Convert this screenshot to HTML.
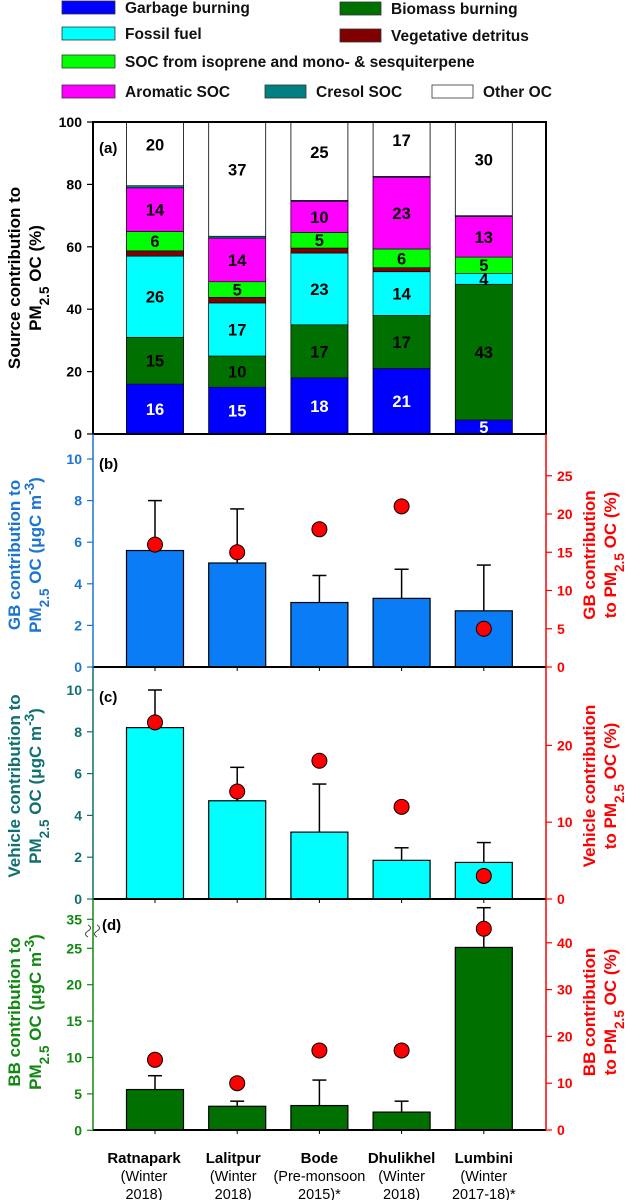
<!DOCTYPE html>
<html><head><meta charset="utf-8"><style>
html,body{margin:0;padding:0;background:#fff}
svg{display:block;font-family:"Liberation Sans",Arial,sans-serif}
</style></head><body>
<svg id="chart" width="627" height="1200" viewBox="0 0 627 1200">
<g id="legend"></g>
<g id="pa"></g>
<g id="pb"></g>
<g id="pc"></g>
<g id="pd"></g>
<g id="xl"></g>
</svg>
<script>
const sites = ["Ratnapark","Lalitpur","Bode","Dhulikhel","Lumbini"];
const periods1 = ["(Winter","(Winter","(Pre-monsoon","(Winter","(Winter"];
const periods2 = ["2018)","2018)","2015)*","2018)","2017-18)*"];
const sourceNames = ["Garbage burning","Biomass burning","Fossil fuel","Vegetative detritus","SOC from isoprene and mono- & sesquiterpene","Aromatic SOC","Cresol SOC","Other OC"];
const sourceColors = ["#0000ff","#007000","#00ffff","#800000","#00ff00","#ff00ff","#008080","#ffffff"];
const gbShare = [16,15,18,21,4.5];
const bbShare = [15,10,17,17,43.5];
const ffShare = [26,17,23,14,3.5];
const vdShare = [1.7,1.8,1.6,1.3,0];
const socShare = [6.2,5,5,6,5.2];
const aroShare = [14,14,10,23,13];
const creShare = [0.7,0.6,0.3,0.3,0.3];
const gbLabel = ["16","15","18","21","5"];
const bbLabel = ["15","10","17","17","43"];
const ffLabel = ["26","17","23","14","4"];
const socLabel = ["6","5","5","6","5"];
const aroLabel = ["14","14","10","23","13"];
const otherLabel = ["20","37","25","17","30"];
const gbConc = [5.6,5.0,3.1,3.3,2.7];
const gbErr = [8.0,7.6,4.4,4.7,4.9];
const gbPct = [16,15,18,21,5];
const vehConc = [8.2,4.7,3.2,1.85,1.75];
const vehErr = [10,6.3,5.5,2.45,2.7];
const vehPct = [23,14,18,12,3];
const bbConc = [5.6,3.3,3.4,2.5,25.3];
const bbErr = [7.5,4.0,6.9,4.0,39];
const bbPct = [15,10,17,17,43];
const ticksA = [0,20,40,60,80,100];
const ticksB = [0,2,4,6,8,10];
const ticksBR = [0,5,10,15,20,25];
const ticksC = [0,2,4,6,8,10];
const ticksCR = [0,10,20];
const ticksD = [0,5,10,15,20,25,35];
const ticksDR = [0,10,20,30,40];

const NS="http://www.w3.org/2000/svg";
function mk(parent,tag,attrs,text){const e=document.createElementNS(NS,tag);for(const k in attrs)e.setAttribute(k,attrs[k]);if(text!==undefined)e.textContent=text;parent.appendChild(e);return e;}
const X0=93,X1=546,BW=57;
const xc=i=>155+82.2*i;

// legend
const L=document.getElementById('legend');
const legItems=[[0,62,1],[1,340,2],[2,62,27],[3,340,29],[4,62,55],[5,62,85],[6,265,85],[7,432,85]];
legItems.forEach(it=>{
  const g=mk(L,'g',{});
  
  
  const w=it[1]===62?53:41;
  mk(g,'rect',{x:it[1],y:it[2],width:w,height:13,fill:sourceColors[it[0]],stroke:'#333','stroke-width':0.8});
  mk(g,'text',{x:it[1]+w+10,y:it[2]+12,'font-size':15.5,'font-weight':'bold',fill:'#111'},sourceNames[it[0]]);
});

function leftAxis(g,ticks,ymap,color,x){
  ticks.forEach(t=>{const y=ymap(t);
    mk(g,'line',{x1:x-6,x2:x,y1:y,y2:y,stroke:color,'stroke-width':1.2});
    const tx=mk(g,'text',{x:x-11,y:y+5,'text-anchor':'end','font-size':14,'font-weight':'bold',fill:color},String(t));
    
  });
}
function rightAxis(g,ticks,ymap){
  ticks.forEach(t=>{const y=ymap(t);
    mk(g,'line',{x1:X1,x2:X1+6,y1:y,y2:y,stroke:'#ff0000','stroke-width':1.2});
    const tx=mk(g,'text',{x:X1+11,y:y+5,'font-size':14,'font-weight':'bold',fill:'#ff0000'},String(t));
    
  });
}
function vtitle(g,x,y,lines,color,size,name){
  const t=mk(g,'text',{transform:`translate(${x},${y}) rotate(-90)`,'text-anchor':'middle','font-size':size,'font-weight':'bold',fill:color});
  
  lines.forEach((ln,i)=>{const ts=mk(t,'tspan',{x:0,dy:i?21:0});ln.forEach(seg=>{mk(ts,'tspan',seg.sub?{'baseline-shift':'sub','font-size':size*0.8}:seg.sup?{'baseline-shift':'super','font-size':size*0.8}:{},seg.t);});});
}

// Panel A
const A=document.getElementById('pa');
const yA=v=>434-v*3.12;
const stacks=[gbShare,bbShare,ffShare,vdShare,socShare,aroShare,creShare];
const segNames=['bar-garbage','bar-biomass','bar-fossil','bar-vegetative','bar-soc-biogenic','bar-aromatic','bar-cresol'];
sites.forEach((s,i)=>{
  let base=0;
  const x=xc(i)-BW/2;
  const ob=mk(A,'rect',{x:x,y:yA(100),width:BW,height:312,fill:'#fff',stroke:'#000','stroke-width':0.8});
  
  const mids=[];
  stacks.forEach((arr,k)=>{
    const v=arr[i];
    const r=mk(A,'rect',{x:x,y:yA(base+v),width:BW,height:v*3.12,fill:sourceColors[k],stroke:'#000','stroke-width':0.6});
    
    mids.push(base+v/2);base+=v;
  });
  const top=base;
  const labs=[[gbLabel,mids[0],'#fff'],[bbLabel,mids[1],'#000'],[ffLabel,mids[2],'#000'],[socLabel,mids[4],'#000'],[aroLabel,mids[5],'#000'],[otherLabel,(top+100)/2+3,'#000']];
  labs.forEach(l=>{
    const t=mk(A,'text',{x:xc(i),y:yA(l[1])+6,'text-anchor':'middle','font-size':16.5,'font-weight':'bold',fill:l[2]},l[0][i]);
    
  });
});
mk(A,'rect',{x:X0,y:122,width:X1-X0,height:312,fill:'none',stroke:'#000','stroke-width':2});
leftAxis(A,ticksA,yA,'#000',X0);
mk(A,'text',{x:99,y:153,'font-size':15,'font-weight':'bold'},'(a)');
vtitle(A,20,278,[[{t:'Source contribution to'}],[{t:'PM'},{t:'2.5',sub:1},{t:' OC (%)'}]],'#000',17,'y-axis-title-a');

function barPanel(id,top,bottom,yL,yR,conc,err,pct,fill,lcolor,ticksL,ticksR,label,title,rtitle,titleY){
  const G=document.getElementById(id);
  sites.forEach((s,i)=>{
    const x=xc(i)-BW/2;
    const e=mk(G,'line',{x1:xc(i),x2:xc(i),y1:yL(conc[i]),y2:yL(err[i]),stroke:'#000','stroke-width':1.5});
    
    mk(G,'line',{x1:xc(i)-7,x2:xc(i)+7,y1:yL(err[i]),y2:yL(err[i]),stroke:'#000','stroke-width':1.5});
    const r=mk(G,'rect',{x:x,y:yL(conc[i]),width:BW,height:bottom-yL(conc[i]),fill:fill,stroke:'#000','stroke-width':1.2});
    
    mk(G,'line',{x1:xc(i),x2:xc(i),y1:bottom,y2:bottom+4,stroke:'#000','stroke-width':1});
  });
  sites.forEach((s,i)=>{
    const c=mk(G,'circle',{cx:xc(i),cy:yR(pct[i]),r:7.5,fill:'#ff0000',stroke:'#000','stroke-width':1});
    
  });
  mk(G,'line',{x1:X0,x2:X1,y1:bottom,y2:bottom,stroke:'#000','stroke-width':2});
  mk(G,'line',{x1:X0,x2:X0,y1:top,y2:bottom,stroke:lcolor,'stroke-width':1.5});
  mk(G,'line',{x1:X1,x2:X1,y1:top,y2:bottom,stroke:'#ff0000','stroke-width':1.5});
  leftAxis(G,ticksL,yL,lcolor,X0);
  rightAxis(G,ticksR,yR);
  mk(G,'text',{x:label[1],y:label[2],'font-size':15,'font-weight':'bold'},label[0]);
  vtitle(G,20,titleY,title,lcolor,17,'y-axis-title-'+id);
  vtitle(G,595,titleY,rtitle,'#ff0000',17,'right-axis-title-'+id);
}
const pm=[{t:'PM'},{t:'2.5',sub:1},{t:' OC ('},{t:'\u03bc'},{t:'gC m'},{t:'-3',sup:1},{t:')'}];
const pmR=[{t:'to PM'},{t:'2.5',sub:1},{t:' OC (%)'}];
barPanel('pb',434,667,v=>667-v*20.8,v=>667-v*7.65,gbConc,gbErr,gbPct,'#0a7cf5','#1b75d0',ticksB,ticksBR,['(b)',99,469],[[{t:'GB contribution to'}],pm],[[{t:'GB contribution'}],pmR],555);
barPanel('pc',667,899,v=>899-v*20.9,v=>899-v*7.68,vehConc,vehErr,vehPct,'#00ffff','#107070',ticksC,ticksCR,['(c)',99,702],[[{t:'Vehicle contribution to'}],pm],[[{t:'Vehicle contribution'}],pmR],786);
const yD=v=>v<=25?1130.3-v*7.28:948.3-(v-25)*2.9;
barPanel('pd',899,1130,yD,v=>1130-v*4.68,bbConc,bbErr,bbPct,'#007000','#118811',ticksD,ticksDR,['(d)',102,930],[[{t:'BB contribution to'}],pm],[[{t:'BB contribution'}],pmR],1012);
const D=document.getElementById('pd');
const br=mk(D,'path',{d:'M88,925 q5,3 0,6 q-5,3 0,6 M97,925 q5,3 0,6 q-5,3 0,6',fill:'none',stroke:'#444','stroke-width':1});


// X labels
const XL=document.getElementById('xl');
sites.forEach((s,i)=>{
  const x=xc(i)-(i==0?11:i==1?4:0);
  const t=mk(XL,'text',{x:x,y:1163,'text-anchor':'middle','font-size':15,'font-weight':'bold'},s);
  
  mk(XL,'text',{x:x,y:1181,'text-anchor':'middle','font-size':14.5},periods1[i]);
  mk(XL,'text',{x:x,y:1199,'text-anchor':'middle','font-size':14.5},periods2[i]);
});
</script>
</body></html>
